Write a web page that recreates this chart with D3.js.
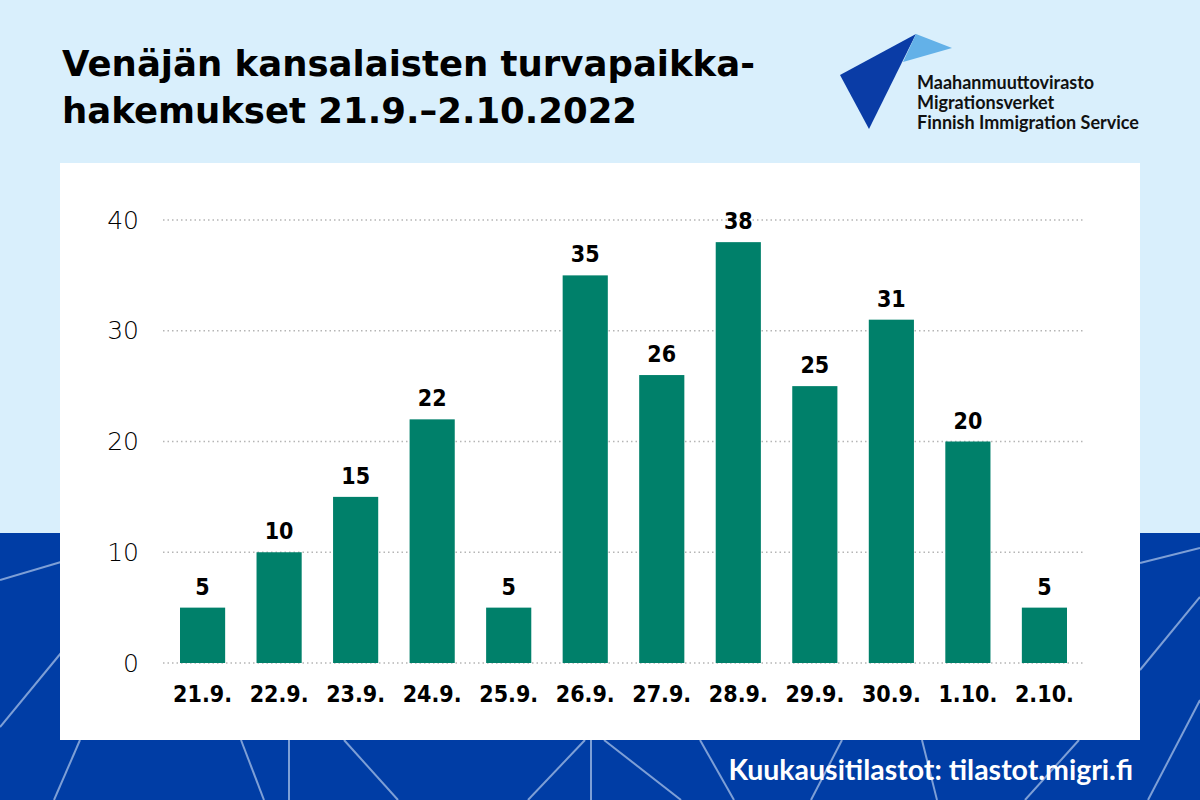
<!DOCTYPE html>
<html>
<head>
    <script src="https://d3js.org/d3.v7.min.js"></script>
    <style>
        body { margin: 0; }
        svg { display: block; }
        .ytick text { font: 200 25px "DejaVu Sans", sans-serif; fill: #000; }
        .xtick text { font: bold 23px "DejaVu Sans Condensed", "DejaVu Sans", sans-serif; font-stretch: condensed; fill: #000; }
        .value { font: bold 23px "DejaVu Sans Condensed", "DejaVu Sans", sans-serif; font-stretch: condensed; fill: #000; text-anchor: middle; }
        .title { font: bold 35.5px "DejaVu Sans", sans-serif; fill: #000; }
        .logo-text { font: bold 18px Lato, sans-serif; fill: #111; }
        .footer { font: bold 28.5px Lato, sans-serif; fill: #fff; text-anchor: end; }
    </style>
</head>
<body>
<svg width="1200" height="800"></svg>
<script>
    // Data
    const days = ["21.9.", "22.9.", "23.9.", "24.9.", "25.9.", "26.9.", "27.9.", "28.9.", "29.9.", "30.9.", "1.10.", "2.10."];
    const applications = [5, 10, 15, 22, 5, 35, 26, 38, 25, 31, 20, 5];
    const yTicks = [0, 10, 20, 30, 40];
    const titleLines = ["Venäjän kansalaisten turvapaikka-", "hakemukset 21.9.–2.10.2022"];
    const logoLines = ["Maahanmuuttovirasto", "Migrationsverket", "Finnish Immigration Service"];

    // decorative background segments in the dark band
    const decoLines = [
        [0, 580, 61, 562], [0, 727, 61, 653], [54, 800, 80, 740], [241, 740, 264, 800],
        [289, 740, 289, 800], [344, 740, 398, 800], [528, 800, 585, 740], [591, 740, 591, 800],
        [604, 740, 681, 800], [700, 740, 734, 800], [811, 800, 842, 740], [922, 740, 937, 800],
        [1025, 800, 1079, 740], [1140, 563, 1200, 548], [1140, 670, 1200, 597], [1148, 800, 1200, 700]
    ];

    const svg = d3.select("svg");

    // Background
    svg.append("rect").attr("width", 1200).attr("height", 800).attr("fill", "#d9effc");
    svg.append("rect").attr("y", 533).attr("width", 1200).attr("height", 267).attr("fill", "#003da5");
    svg.append("g").selectAll("line")
        .data(decoLines)
        .enter().append("line")
        .attr("x1", d => d[0]).attr("y1", d => d[1])
        .attr("x2", d => d[2]).attr("y2", d => d[3])
        .attr("stroke", "#7d9fd6")
        .attr("stroke-width", 2);

    // White panel
    svg.append("rect")
        .attr("x", 60).attr("y", 163)
        .attr("width", 1080).attr("height", 577)
        .attr("fill", "#fff");

    // Title
    svg.append("g").selectAll("text")
        .data(titleLines)
        .enter().append("text")
        .attr("class", "title")
        .attr("x", 62)
        .attr("y", (d, i) => 76 + i * 47)
        .text(d => d);

    // Logo
    const logo = svg.append("g");
    logo.append("polygon").attr("points", "840,75 916,34 869,129").attr("fill", "#0a3ca6");
    logo.append("polygon").attr("points", "916,34 952,48 903,62").attr("fill", "#63b1e8");
    logo.selectAll("text")
        .data(logoLines)
        .enter().append("text")
        .attr("class", "logo-text")
        .attr("x", 917)
        .attr("y", (d, i) => 89 + i * 20)
        .text(d => d);

    // Scales
    const x = d3.scaleBand().domain(days).range([180, 1067]).paddingInner(0.41).paddingOuter(0);
    const y = d3.scaleLinear().domain([0, 40]).range([663, 220]);

    // Gridlines (dotted)
    svg.append("g").selectAll("line")
        .data(yTicks)
        .enter().append("line")
        .attr("x1", 163).attr("x2", 1083)
        .attr("y1", d => y(d)).attr("y2", d => y(d))
        .attr("stroke", "#b5b5b5")
        .attr("stroke-width", 1.5)
        .attr("stroke-dasharray", "1.5,3");

    // Y axis labels
    const yAxis = svg.append("g")
        .attr("class", "ytick")
        .attr("transform", "translate(139,0)")
        .call(d3.axisLeft(y).tickValues(yTicks).tickSize(0).tickPadding(0));
    yAxis.select(".domain").remove();
    yAxis.selectAll("text").attr("font-size", null).attr("font-family", null).attr("fill", null);

    // Bars
    svg.append("g").selectAll("rect")
        .data(applications)
        .enter().append("rect")
        .attr("x", (d, i) => x(days[i]))
        .attr("y", d => y(d))
        .attr("width", x.bandwidth())
        .attr("height", d => y(0) - y(d))
        .attr("fill", "#00806a");

    // Value labels
    svg.append("g").selectAll("text")
        .data(applications)
        .enter().append("text")
        .attr("class", "value")
        .attr("x", (d, i) => x(days[i]) + x.bandwidth() / 2)
        .attr("y", d => y(d) - 13)
        .text(d => d);

    // X axis labels
    const xAxis = svg.append("g")
        .attr("class", "xtick")
        .attr("transform", "translate(0,681)")
        .call(d3.axisBottom(x).tickSize(0).tickPadding(0));
    xAxis.select(".domain").remove();
    xAxis.selectAll("text").attr("font-size", null).attr("font-family", null).attr("fill", null)
        .attr("dy", "0.9em");

    // Footer
    svg.append("text")
        .attr("class", "footer")
        .attr("x", 1133)
        .attr("y", 780)
        .text("Kuukausitilastot: tilastot.migri.fi");
</script>
</body>
</html>
